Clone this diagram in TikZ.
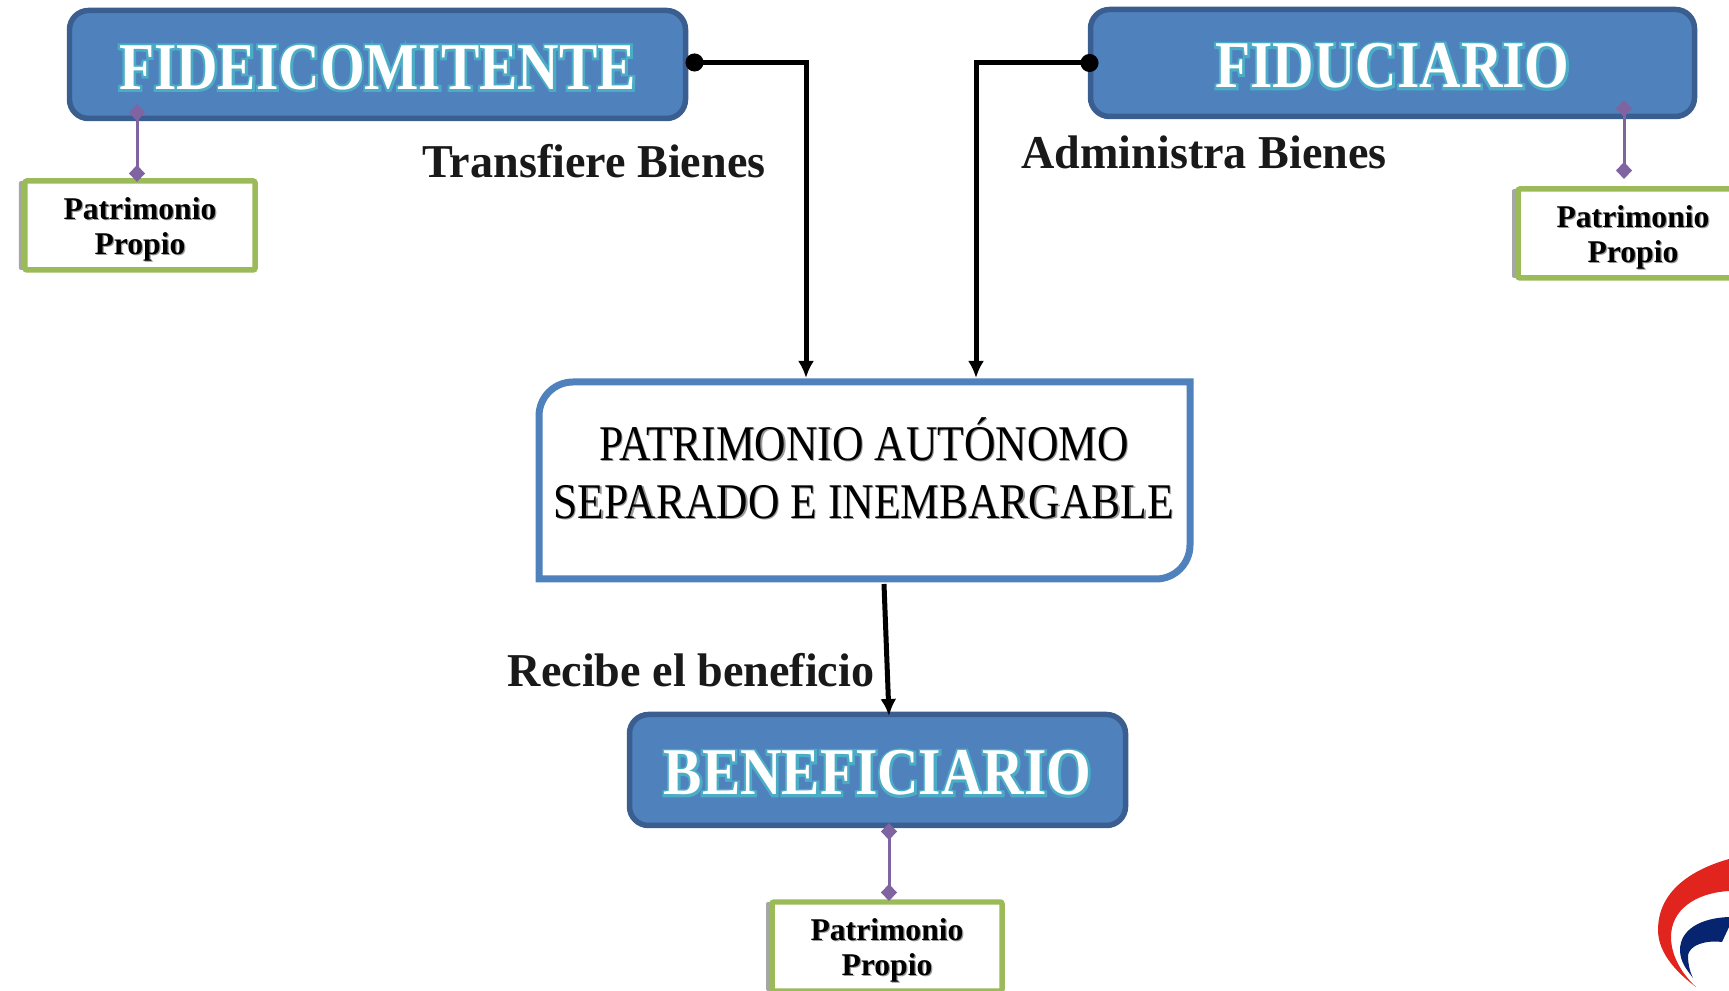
\documentclass[tikz,border=0pt]{standalone}
\usepackage{fontspec}
\usepackage{xcolor}
\setmainfont{Liberation Serif}
\newfontfamily\titlefont[FakeStretch=0.86,Color=FFFFFF]{Liberation Serif Bold}
\newfontfamily\glowfont[FakeStretch=0.86,FakeBold=7,Color=4BACC6]{Liberation Serif Bold}
\newfontfamily\labelfont[FakeStretch=0.98]{Liberation Serif Bold}
\newfontfamily\smallfont{Liberation Serif Bold}
\newfontfamily\bigfont[FakeStretch=0.873]{Liberation Serif}
\usetikzlibrary{arrows.meta,shadows}
\definecolor{boxblue}{HTML}{4F81BD}
\definecolor{boxdark}{HTML}{3A5E8F}
\definecolor{boxgreen}{HTML}{9BBB59}
\definecolor{stempurple}{HTML}{8064A2}
\definecolor{logored}{HTML}{E1251E}
\definecolor{logoblue}{HTML}{06246F}
\def\titletext#1{\fontsize{19}{22}\selectfont\raisebox{-0.9pt}[\height][\depth]{\rlap{\glowfont #1}{\titlefont #1}}}
\def\softtext#1{\rlap{\kern0.35pt\raisebox{-0.35pt}{\textcolor{black!40}{#1}}}#1}
\def\owntext#1{\raisebox{-1.3pt}[\height][\depth]{\softtext{#1}}}
\tikzset{
	rolebox/.style={draw=boxdark, fill=boxblue, line width=0.055cm, rounded corners=0.19cm, inner sep=0, outer sep=0},
	ownbox/.style={draw=boxgreen, fill=white, line width=0.055cm, rounded corners=0.02cm, minimum width=2.30cm, minimum height=0.89cm, inner sep=0, outer sep=0, align=center,
		drop shadow={shadow xshift=-0.06cm, shadow yshift=0cm, fill=black, opacity=0.35}, font=\smallfont\fontsize{9}{10}\selectfont},
	flowlabel/.style={inner sep=0, text=black!90, font=\labelfont\fontsize{13.4}{15}\selectfont},
	flow/.style={line width=0.05cm, -{Latex[length=0.17cm,width=0.16cm]}},
	flowdot/.style={line width=0.05cm, {Circle[length=0.18cm,width=0.18cm]}-{Latex[length=0.17cm,width=0.16cm]}},
	stem/.style={color=stempurple, line width=0.03cm, {Diamond[length=0.17cm,width=0.16cm]}-{Diamond[length=0.17cm,width=0.16cm]}}
}

\begin{document}
\begin{tikzpicture}
			%%%%% START %%%%%
			\useasboundingbox (0, 0) rectangle (17.29, 9.90);
			
			\node[rolebox, minimum width=6.16cm, minimum height=1.08cm] (fide) at (3.775, 9.255) {\titletext{FIDEICOMITENTE}};
			\node[rolebox, minimum width=6.04cm, minimum height=1.07cm] (fidu) at (13.925, 9.27) {\titletext{FIDUCIARIO}};
			\node[rolebox, minimum width=4.96cm, minimum height=1.11cm] (bene) at (8.775, 2.20) {\titletext{BENEFICIARIO}};
			
			\node[ownbox] (ownFide) at (1.40, 7.645) {\owntext{Patrimonio}\\\owntext{Propio}};
			\node[ownbox] (ownFidu) at (16.33, 7.565) {\owntext{Patrimonio}\\\owntext{Propio}};
			\node[ownbox] (ownBene) at (8.87, 0.435) {\owntext{Patrimonio}\\\owntext{Propio}};
			
			\node[minimum width=6.51cm, minimum height=1.97cm, inner sep=0, outer sep=0] (auto) at (8.645, 5.095) {};
			\draw[line width=0.07cm, color=boxblue, fill=white] (auto.south west) [rounded corners=0.34cm] -- (auto.north west) [sharp corners] -- (auto.north east) [rounded corners=0.34cm] -- (auto.south east) [sharp corners] -- cycle;
			\node[align=center, inner sep=0, font=\bigfont\fontsize{14.2}{16.5}\selectfont] (autoText) at (8.64, 5.21) {\softtext{PATRIMONIO AUTÓNOMO}\\\softtext{SEPARADO E INEMBARGABLE}};
			
			\node[flowlabel] (transfiere) at (5.94, 8.29) {Transfiere Bienes};
			\node[flowlabel] (administra) at (12.04, 8.38) {Administra Bienes};
			\node[flowlabel] (recibe) at (6.91, 3.20) {Recibe el beneficio};
			
			\coordinate (fideIn) at (8.06, 6.12);
			\coordinate (fiduIn) at (9.76, 6.12);
			\coordinate (autoOut) at (8.84, 4.06);
			\coordinate (beneIn) at (8.89, 2.74);
			
			\draw[flowdot] ([yshift=0.02cm]fide.east) -| (fideIn);
			\draw[flowdot] ([xshift=0.08cm]fidu.west) -| (fiduIn);
			\draw[flow] (autoOut) -- (beneIn);
			
			\coordinate (fideTop) at (1.37, 8.86);
			\coordinate (fideEnd) at (1.37, 8.08);
			\coordinate (fiduTop) at (16.24, 8.90);
			\coordinate (fiduEnd) at (16.24, 8.11);
			\coordinate (beneTop) at (8.89, 1.67);
			\coordinate (beneEnd) at (8.89, 0.89);
			
			\draw[stem] (fideTop) -- (fideEnd);
			\draw[stem] (fiduTop) -- (fiduEnd);
			\draw[stem] (beneTop) -- (beneEnd);
			
			\fill[logored] (17.29, 1.31) .. controls (16.90, 1.20) and (16.58, 0.98) .. (16.58, 0.60) .. controls (16.58, 0.35) and (16.80, 0.15) .. (16.96, 0.03) .. controls (16.78, 0.20) and (16.71, 0.38) .. (16.71, 0.53) .. controls (16.71, 0.80) and (16.95, 0.97) .. (17.29, 0.99) -- cycle;
			\fill[logoblue] (17.29, 0.73) .. controls (17.00, 0.72) and (16.80, 0.60) .. (16.80, 0.40) .. controls (16.80, 0.28) and (16.87, 0.20) .. (16.93, 0.12) .. controls (16.89, 0.20) and (16.88, 0.28) .. (16.88, 0.35) .. controls (16.90, 0.45) and (17.05, 0.50) .. (17.22, 0.48) -- (17.29, 0.63) -- cycle;
			
			%%%%% END %%%%%
		\end{tikzpicture}
\end{document}
